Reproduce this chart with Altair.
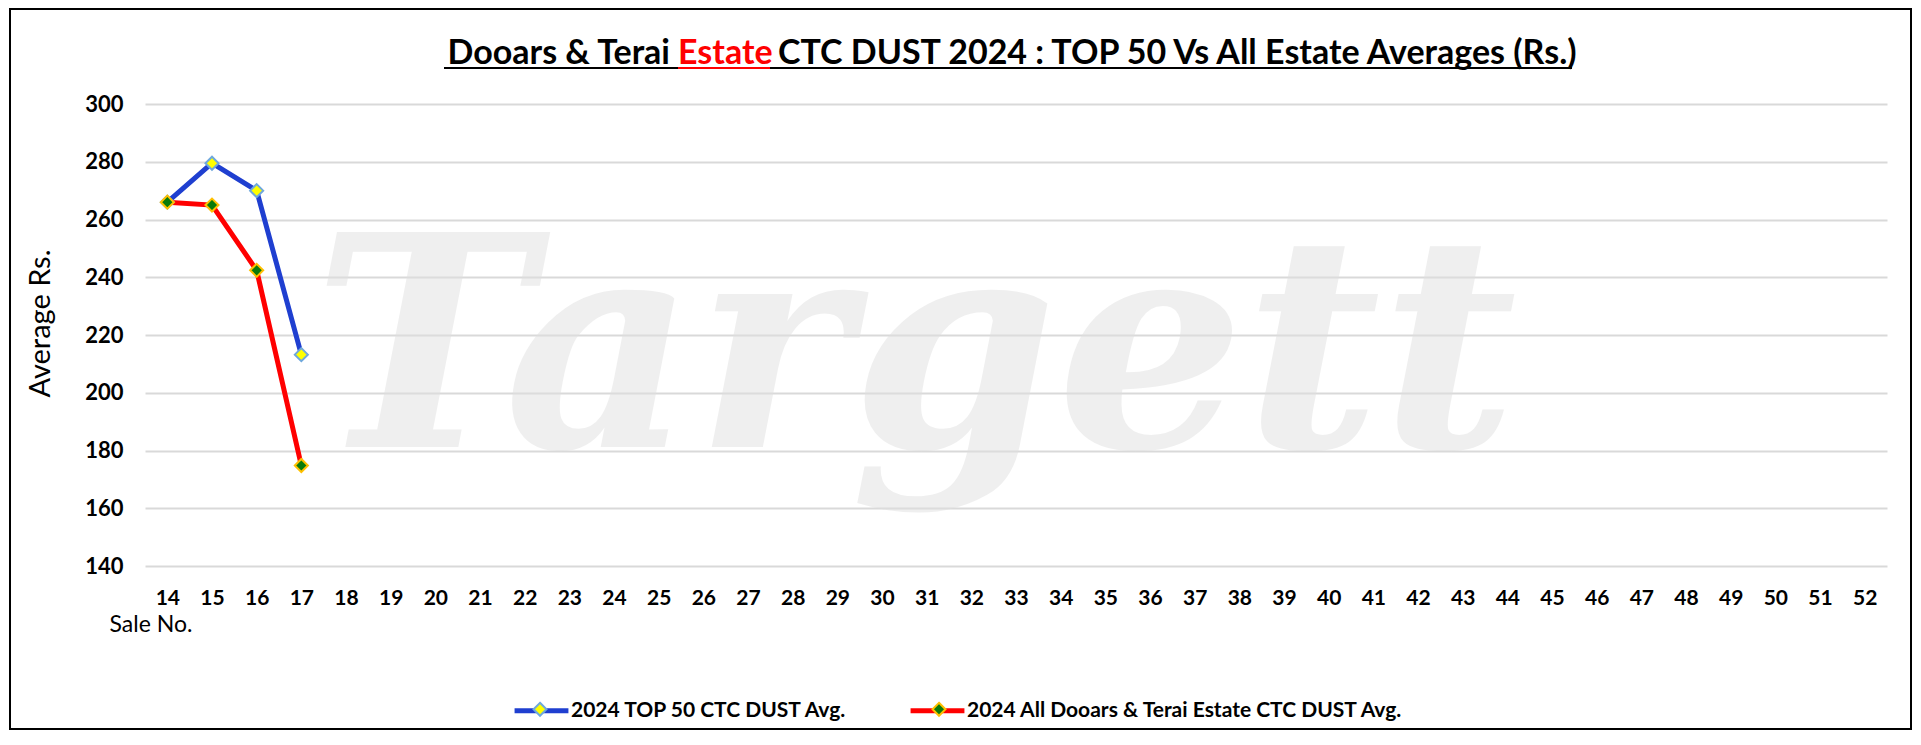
import altair as alt
import pandas as pd

# ---- data ----
sales = [14, 15, 16, 17]
top50_avg = [266.0, 279.5, 270.0, 213.2]
all_estate_avg = [266.0, 265.0, 242.4, 174.8]
series_names = ["2024 TOP 50 CTC DUST Avg.",
                "2024 All Dooars & Terai Estate CTC DUST Avg."]
x_ticks = list(range(14, 53))
y_ticks = list(range(140, 301, 20))

title_left = "Dooars & Terai"
title_red = "Estate"
title_right = "CTC DUST 2024 : TOP 50 Vs All Estate Averages (Rs.)"
watermark = "Targett"

df = pd.DataFrame({
    "sale": sales * 2,
    "value": top50_avg + all_estate_avg,
    "series": [series_names[0]] * len(sales) + [series_names[1]] * len(sales),
})
df["series2"] = df["series"]
one = pd.DataFrame({"k": [0]})

BLUE = "#1f3fd0"
RED = "#ff0000"
FONT = "Lato"

W, H = 1742, 462

x_enc = alt.X(
    "sale:Q",
    scale=alt.Scale(domain=[13.5, 52.5], nice=False, zero=False),
    axis=alt.Axis(values=x_ticks, format="d", title="Sale No.", grid=False,
                  domain=False, ticks=False, labelFont=FONT, labelFontWeight="bold",
                  labelFontSize=21, labelColor="black", labelPadding=32,
                  labelBaseline="middle", labelFlush=False, labelOverlap=False,
                  titleX=-36, titleY=58, titleAlign="left", titleBaseline="middle",
                  titleFont=FONT, titleFontWeight="normal", titleFontSize=23,
                  titleColor="black"),
)
y_enc = alt.Y(
    "value:Q",
    scale=alt.Scale(domain=[140, 300], nice=False, zero=False),
    axis=alt.Axis(values=y_ticks, title="Average Rs.", grid=True, gridColor="#d9d9d9",
                  gridWidth=2, domain=False, ticks=False, labelFont=FONT,
                  labelFontWeight="bold", labelFontSize=22, labelColor="black",
                  labelPadding=22, titleX=-105, titleY=219, titleAngle=270,
                  titleAlign="center", titleBaseline="middle", titleFont=FONT,
                  titleFontWeight="normal", titleFontSize=29, titleColor="black"),
)

leg_common = dict(title=None, orient="none", legendX=367, legendY=577,
                  direction="horizontal", symbolSize=2900,
                  labelOffset=0, labelFont=FONT, labelFontWeight="bold",
                  labelFontSize=21, labelColor="black", padding=0,
                  labelLimit=1000)

lines = alt.Chart(df).mark_line(strokeWidth=5).encode(
    x=x_enc, y=y_enc,
    color=alt.Color("series:N", scale=alt.Scale(domain=series_names, range=[BLUE, RED]),
                    legend=alt.Legend(symbolType="stroke", symbolStrokeWidth=5,
                                      columnPadding=52, **leg_common)),
)

leg2 = alt.Legend(symbolType="M0,-0.24L0.24,0L0,0.24L-0.24,0Z", symbolStrokeWidth=2,
                  labelExpr="''", columnPadding=343, **leg_common)
points = alt.Chart(df).mark_point(shape="diamond", filled=True, size=170,
                                  strokeWidth=2, opacity=1).encode(
    x=x_enc, y=y_enc,
    fill=alt.Fill("series2:N", scale=alt.Scale(domain=series_names,
                                                range=["#ffff00", "#0a7a0a"]), legend=leg2),
    stroke=alt.Stroke("series2:N", scale=alt.Scale(domain=series_names,
                                                    range=["#6fa8dc", "#ffc000"]), legend=leg2),
)

wm = alt.Chart(one).mark_text(text=watermark, font="DejaVu Serif", fontWeight="bold",
                              fontStyle="italic", fontSize=295, color="#e0e0e0",
                              opacity=0.5, align="center", baseline="alphabetic").encode(
    x=alt.value(770), y=alt.value(343))

TFS = 34
TY = -40
EX = 533
EW = 92
SP = 8
t1 = alt.Chart(one).mark_text(text=title_left, font=FONT, fontWeight="bold", fontSize=TFS,
                              color="black", align="right", baseline="alphabetic").encode(
    x=alt.value(EX - SP), y=alt.value(TY))
t2 = alt.Chart(one).mark_text(text=title_red, font=FONT, fontWeight="bold", fontSize=TFS,
                              color=RED, align="left", baseline="alphabetic").encode(
    x=alt.value(EX), y=alt.value(TY))
t3 = alt.Chart(one).mark_text(text=title_right, font=FONT, fontWeight="bold", fontSize=TFS,
                              color="black", align="left", baseline="alphabetic").encode(
    x=alt.value(EX + EW + SP), y=alt.value(TY))
ul = alt.Chart(one).mark_rule(color="black", strokeWidth=2).encode(
    x=alt.value(299), x2=alt.value(1427), y=alt.value(-36))
ul_red = alt.Chart(one).mark_rule(color=RED, strokeWidth=2).encode(
    x=alt.value(EX), x2=alt.value(EX + EW), y=alt.value(-36))

border = alt.Chart(one).mark_rect(fillOpacity=0, stroke="black", strokeWidth=2).encode(
    x=alt.value(-135), x2=alt.value(1766), y=alt.value(-95), y2=alt.value(625))

chart = alt.layer(wm, border, lines, points, t1, t2, t3, ul, ul_red).resolve_legend(
    color="independent", fill="independent", stroke="independent"
).properties(
    width=W, height=H,
    autosize=alt.AutoSizeParams(type="none"),
    padding={"left": 137, "top": 96, "right": 26, "bottom": 164},
    background="white",
).configure_view(stroke=None)

chart.save("out.html", embed_options={"renderer": "svg", "actions": False})
